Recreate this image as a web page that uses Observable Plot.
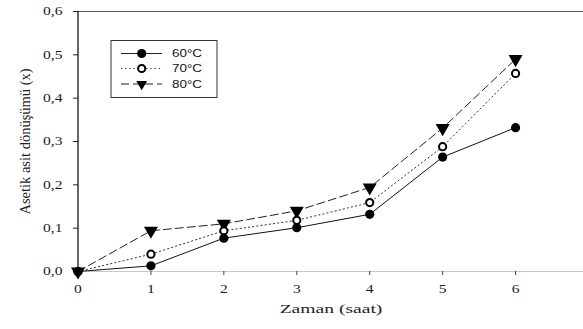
<!DOCTYPE html>
<html><head><meta charset="utf-8">
<script src="https://cdn.jsdelivr.net/npm/d3@7"></script>
<script src="https://cdn.jsdelivr.net/npm/@observablehq/plot@0.6"></script>
<style>
html,body{margin:0;padding:0;overflow:hidden;background:#fff}
#chart svg{overflow:hidden}
</style>
</head><body><div id="chart"></div><script>
const hours = [0, 1, 2, 3, 4, 5, 6];
const seriesNames = ["60°C", "70°C", "80°C"];
const v60 = [0, 0.013, 0.077, 0.101, 0.132, 0.264, 0.332];
const v70 = [0, 0.040, 0.094, 0.118, 0.159, 0.288, 0.457];
const v80 = [0, 0.094, 0.110, 0.140, 0.194, 0.331, 0.490];
const xTicks = [0, 1, 2, 3, 4, 5, 6];
const yTicks = [0, 0.1, 0.2, 0.3, 0.4, 0.5, 0.6];
const xTitle = "Zaman (saat)";
const yTitle = "Asetik asit dönüşümü (x)";

const rows = (vals, s) => hours.map((h, i) => ({h, v: vals[i], s}));
const d60 = rows(v60, seriesNames[0]);
const d70 = rows(v70, seriesNames[1]);
const d80 = rows(v80, seriesNames[2]);
const fmt = d => d.toFixed(1).replace(".", ",");
const SERIF = '"Liberation Serif", "DejaVu Serif", serif';

const plot = Plot.plot({
  width: 583,
  height: 329,
  marginLeft: 78,
  marginTop: 11,
  marginBottom: 58,
  marginRight: 0,
  style: {background: "#fff", color: "#111"},
  x: {domain: [0, 7], range: [77.5, 588]},
  y: {domain: [0, 0.6]},
  marks: [
    Plot.ruleY([0.6], {stroke: "#555", strokeWidth: 1.2}),
    Plot.ruleY([0], {stroke: "#c8c8c8", strokeWidth: 1.2}),
    Plot.ruleX([0], {stroke: "#000", strokeWidth: 1.2}),
    Plot.axisX({ticks: xTicks, tickSize: 4, tickPadding: 9, fontSize: 12, tickFormat: d => String(d),
      label: xTitle, labelAnchor: "center", labelArrow: "none", labelOffset: 41, stroke: "#444"}),
    Plot.axisY({ticks: yTicks, tickSize: 5, tickPadding: 11, fontSize: 12, tickFormat: fmt,
      label: yTitle, labelAnchor: "center", labelArrow: "none", labelOffset: 59, stroke: "#222"}),
    Plot.line(d60, {x: "h", y: "v", stroke: "#111", strokeWidth: 1}),
    Plot.line(d70, {x: "h", y: "v", stroke: "#333", strokeWidth: 1, strokeDasharray: "1.2,3"}),
    Plot.line(d80, {x: "h", y: "v", stroke: "#222", strokeWidth: 1, strokeDasharray: "8,4"}),
    Plot.dot(d80, {x: "h", y: "v", symbol: "triangle", rotate: 180, r: 5.2, fill: "#000", stroke: "none"}),
    Plot.dot(d70, {x: "h", y: "v", symbol: "circle", r: 3.6, fill: "#fff", stroke: "#000", strokeWidth: 2}),
    Plot.dot(d60, {x: "h", y: "v", symbol: "circle", r: 4.6, fill: "#000", stroke: "none"})
  ]
});
plot.setAttribute("font-family", SERIF);
plot.style.fontFamily = SERIF;
document.getElementById("chart").appendChild(plot);

const svg = d3.select(plot);
svg.selectAll("g").each(function() {
  if (this.hasAttribute("font-family")) this.setAttribute("font-family", SERIF);
});
svg.selectAll("text").each(function() {
  this.style.fontFamily = SERIF;
  this.setAttribute("fill", "#1a1a1a");
});
svg.selectAll('g[aria-label="x-axis label"] text').style("font-size", "13.5px").attr("font-size", 13.5).attr("fill", "#222");
svg.selectAll('g[aria-label="y-axis label"] text').style("font-size", "14.5px").attr("font-size", 14.5).attr("fill", "#222");

// horizontal stretch of texts like the reference (via textLength)
const stretch = (sel, s) => sel.each(function() {
  const w = this.getComputedTextLength();
  this.setAttribute("textLength", (w * s).toFixed(2));
  this.setAttribute("lengthAdjust", "spacingAndGlyphs");
});
stretch(svg.selectAll('g[aria-label="x-axis tick label"] text'), 1.3);
stretch(svg.selectAll('g[aria-label="y-axis tick label"] text'), 1.3);
stretch(svg.selectAll('g[aria-label="x-axis label"] text'), 1.45);

// legend
const SANS = '"Liberation Sans", Arial, sans-serif';
const lg = svg.append("g").attr("aria-label", "legend").attr("text-anchor", "start");
lg.append("rect").attr("x", 111).attr("y", 40.5).attr("width", 106).attr("height", 57)
  .attr("fill", "#fff").attr("stroke", "#333").attr("stroke-width", 1);
const legendRows = [
  {name: seriesNames[0], dash: null, sym: d3.symbolCircle, size: Math.PI * 4.6 * 4.6, fill: "#000", stroke: "none"},
  {name: seriesNames[1], dash: "1.2,3", sym: d3.symbolCircle, size: Math.PI * 3.6 * 3.6, fill: "#fff", stroke: "#000"},
  {name: seriesNames[2], dash: "8,4", sym: d3.symbolTriangle, size: 50, fill: "#000", stroke: "none", rot: 180}
];
const rowY = [53.5, 68.5, 84];
legendRows.forEach((r, i) => {
  const y = rowY[i];
  lg.append("line").attr("x1", 121).attr("x2", 162).attr("y1", y).attr("y2", y)
    .attr("stroke", "#222").attr("stroke-width", 1).attr("stroke-dasharray", r.dash);
  lg.append("path").attr("d", d3.symbol(r.sym, r.size)())
    .attr("transform", `translate(141.7,${y})` + (r.rot ? ` rotate(${r.rot})` : ""))
    .attr("fill", r.fill).attr("stroke", r.stroke).attr("stroke-width", 2);
  const t = lg.append("text").attr("x", 172).attr("y", y).attr("dy", "0.35em")
    .attr("text-anchor", "start").attr("font-size", 11).attr("fill", "#111")
    .style("font-family", SANS)
    .text(r.name);
  stretch(t, 1.22);
});
</script></body></html>
